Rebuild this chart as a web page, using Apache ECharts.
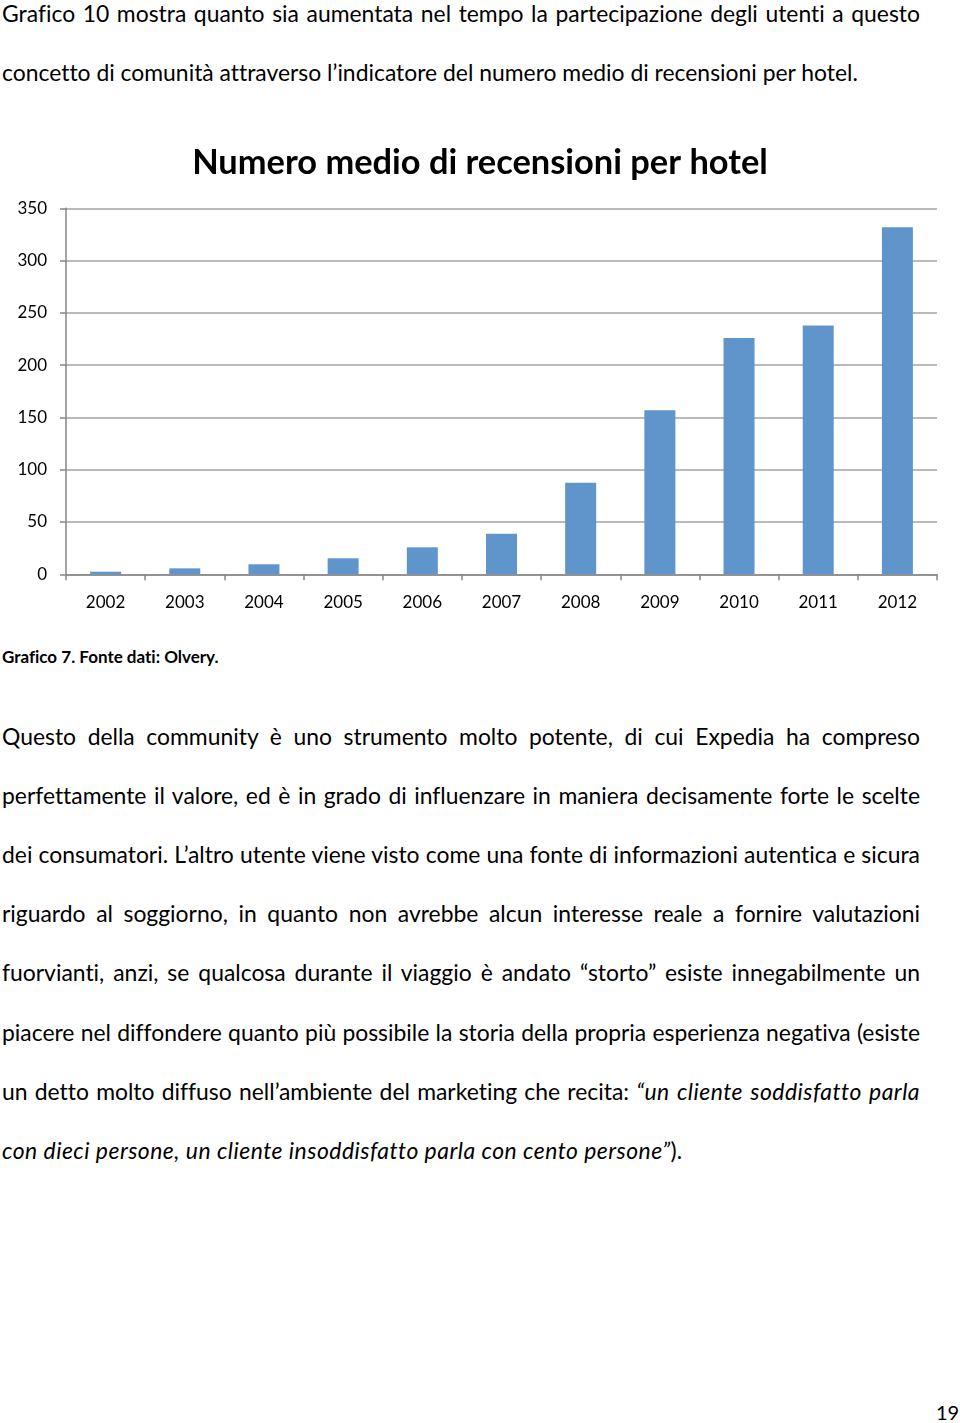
<!DOCTYPE html>
<html><head><meta charset="utf-8">
<script src="https://cdn.jsdelivr.net/npm/echarts@6/dist/echarts.min.js"></script>
<style>
html,body{margin:0;padding:0;background:#fff;}
body{width:960px;height:1423px;position:relative;overflow:hidden;font-family:Lato,'Noto Sans',sans-serif;color:#000;font-variant-ligatures:none;font-feature-settings:"liga" 0;}
.ln{position:absolute;left:2px;width:918px;white-space:normal;font-size:22.9px;line-height:28px;}
.ln i{letter-spacing:0.5px;}
.j{text-align:justify;text-align-last:justify;}
.l{text-align:left;}
.cap{position:absolute;left:2px;font-weight:bold;font-size:17px;line-height:20px;}
.pn{position:absolute;left:936px;font-size:20px;line-height:24px;}
#chart{position:absolute;left:0;top:120px;width:960px;height:520px;}
</style></head>
<body>
<div id="chart"></div>
<div id="text"></div>
<script>
// ---- data ----
const chartTitle = 'Numero medio di recensioni per hotel';
const years = ['2002','2003','2004','2005','2006','2007','2008','2009','2010','2011','2012'];
const reviews = [2.5, 5.7, 9.6, 15.3, 25.8, 38.8, 87.6, 156.8, 226, 238, 331.8];
const yMin = 0, yMax = 350, yStep = 50;

const para1 = [
  'Grafico 10 mostra quanto sia aumentata nel tempo la partecipazione degli utenti a questo',
  'concetto di comunità attraverso l’indicatore del numero medio di recensioni per hotel.'
];
const caption = 'Grafico 7. Fonte dati: Olvery.';
const para2 = [
  'Questo della community è uno strumento molto potente, di cui Expedia ha compreso',
  'perfettamente il valore, ed è in grado di influenzare in maniera decisamente forte le scelte',
  'dei consumatori. L’altro utente viene visto come una fonte di informazioni autentica e sicura',
  'riguardo al soggiorno, in quanto non avrebbe alcun interesse reale a fornire valutazioni',
  'fuorvianti, anzi, se qualcosa durante il viaggio è andato “storto” esiste innegabilmente un',
  'piacere nel diffondere quanto più possibile la storia della propria esperienza negativa (esiste',
  'un detto molto diffuso nell’ambiente del marketing che recita: <i>“un cliente soddisfatto parla</i>',
  '<i>con dieci persone, un cliente insoddisfatto parla con cento persone”</i>).'
];
const pageNumber = '19';

// ---- text layout ----
const textEl = document.getElementById('text');
function addLine(html, centerY, justify){
  const d = document.createElement('div');
  d.className = 'ln ' + (justify ? 'j' : 'l');
  d.style.top = (centerY - 14) + 'px';
  d.innerHTML = html;
  textEl.appendChild(d);
  return d;
}
const p1Y = [13, 72];
para1.forEach((t,i)=>addLine(t, p1Y[i], i < para1.length-1));
const p2Y = [736, 795, 854, 913, 972, 1032, 1091, 1150];
para2.forEach((t,i)=>addLine(t, p2Y[i], i < para2.length-1));
const cap = document.createElement('div');
cap.className='cap'; cap.style.top=(657-10)+'px'; cap.textContent=caption; textEl.appendChild(cap);
const pn = document.createElement('div');
pn.className='pn'; pn.style.top=(1412-12)+'px'; pn.textContent=pageNumber; textEl.appendChild(pn);

// ---- chart ----
const chart = echarts.init(document.getElementById('chart'), null, {renderer:'canvas'});
const fam = 'Lato, "Noto Sans", sans-serif';
chart.setOption({
  animation:false,
  title:{text:chartTitle, left:'center', top:21,
    textStyle:{fontFamily:fam, fontSize:34.4, fontWeight:'bold', color:'#000'}},
  grid:{left:66, right:23, top:88.3, bottom:65.7, containLabel:false},
  xAxis:{type:'category', data:years, boundaryGap:true,
    axisLine:{lineStyle:{color:'#868686', width:1.5}},
    axisTick:{show:true, alignWithLabel:false, length:6, lineStyle:{color:'#868686', width:1.5}},
    axisLabel:{color:'#000', fontFamily:fam, fontSize:17, margin:20}},
  yAxis:{type:'value', min:yMin, max:yMax, interval:yStep,
    axisLine:{show:true, lineStyle:{color:'#868686', width:1.5}},
    axisTick:{show:true, length:6, lineStyle:{color:'#868686', width:1.5}},
    axisLabel:{color:'#000', fontFamily:fam, fontSize:17, margin:19},
    splitLine:{show:true, lineStyle:{color:'#a3a3a3', width:1.5}}},
  series:[{type:'bar', data:reviews, barWidth:31,
    itemStyle:{color:'#5f95ca'}}]
});
</script>
</body></html>
